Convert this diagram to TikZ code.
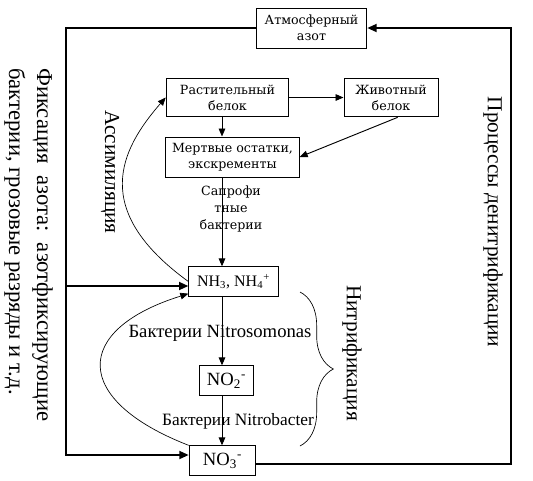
\documentclass[tikz,border=0pt]{standalone}
\usepackage{fontspec}
\setmainfont{Liberation Serif}
\newfontfamily\boxfont{DejaVu Serif}
\usetikzlibrary{calc, arrows.meta, decorations.pathreplacing}

\begin{document}
\begin{tikzpicture}[x=0.75pt, y=-0.75pt,
box/.style = {% framed boxes
    draw, line width=0.75pt, inner sep=1pt, align=center,
    font=\boxfont\fontsize{9.5}{12}\selectfont,
            },
chem/.style = {draw, line width=0.75pt, inner sep=1pt,
    font=\fontsize{14}{16}\selectfont},
lbl/.style = {inner sep=0pt, align=center},
side/.style = {rotate=-90, inner sep=0pt, font=\fontsize{16}{21}\selectfont},
arr/.style = {-{Triangle[length=6pt,width=5pt]}, line width=0.7pt},
loop/.style = {-{Triangle[length=7pt,width=6pt]}, line width=1.3pt},
                        ]
\useasboundingbox (0,0) rectangle (533,480);
% boxes
\node[box, minimum width=83pt, minimum height=30pt] (atm) at (311.5,28) {Атмосферный\\азот};
\node[box, minimum width=92pt, minimum height=29pt] (rast) at (227.5,97.5) {Растительный\\белок};
\node[box, minimum width=70.5pt, minimum height=29pt] (zhiv) at (391,97.5) {Животный\\белок};
\node[box, minimum width=100pt, minimum height=30pt] (mert) at (232.5,157) {Мертвые остатки,\\экскременты};
\node[chem, font=\fontsize{12}{14}\selectfont, minimum width=67pt, minimum height=22pt] (nh) at (233.5,281.5)
    {NH\textsubscript{3}, NH\textsubscript{4}\textsuperscript{+}};
\node[chem, minimum width=41pt, minimum height=22pt] (no2) at (226.5,380.5) {NO\textsubscript{2}\textsuperscript{-}};
\node[chem, minimum width=50pt, minimum height=22pt] (no3) at (222.5,460.5) {NO\textsubscript{3}\textsuperscript{-}};
% labels
\node[lbl, font=\boxfont\fontsize{9.5}{12.75}\selectfont] (sapr) at (231,209) {Сапрофи\\тные\\бактерии};
\node[lbl, font=\fontsize{14}{16}\selectfont] (nitroso) at (220,333) {Бактерии Nitrosomonas};
\node[lbl, font=\fontsize{13}{15}\selectfont] (nitrob) at (238,421) {Бактерии Nitrobacter};
\node[side] (nitr) at (352,353) {Нитрификация};
\node[side] (denitr) at (493,222) {Процессы денитрификации};
\node[side] (assim) at (110,172) {Ассимиляция};
\node[side, anchor=north west, align=left, font=\fontsize{17}{21}\selectfont] (fix) at (53,68)
    {Фиксация\ \ азота:\ \ азотфиксирующие\\бактерии, грозовые разряды и т.д.};
% inner arrows
\coordinate (spine) at (222,0);
\draw[arr] (rast.east) -- (zhiv.west);
\draw[arr] (rast.south -| spine) -- (mert.north -| spine);
\draw[arr] ([xshift=5pt]zhiv.south) -- (mert.east);
\draw[arr] (mert.south -| spine) -- (nh.north -| spine);
\draw[arr] (nh.south -| spine) -- (no2.north -| spine);
\draw[arr] (no2.south -| spine) -- (no3.north -| spine);
% curves
\draw[arr, line width=0.5pt] (nh.west) .. controls (90,210) and (120,150) .. (rast.west);
\draw[arr, line width=0.5pt] (no3.north west) .. controls (72,400) and (72,330) .. ($(nh.south west)+(0,-3)$);
% brace
\draw[line width=0.5pt, decorate, decoration={brace, amplitude=25pt}] (300,292) -- (300,446);
% outer loop
\coordinate (tl) at (66,28);
\coordinate (ml) at (66,286);
\coordinate (bl) at (66,455);
\coordinate (tr) at (511,28);
\coordinate (br) at (511,464);
\draw[loop] (atm.west) -- (tl) -- (bl) -- (bl -| no3.west);
\draw[loop] (ml) -- (ml -| nh.west);
\draw[loop] (br -| no3.east) -- (br) -- (tr) -- (atm.east);
\end{tikzpicture}
\end{document}
